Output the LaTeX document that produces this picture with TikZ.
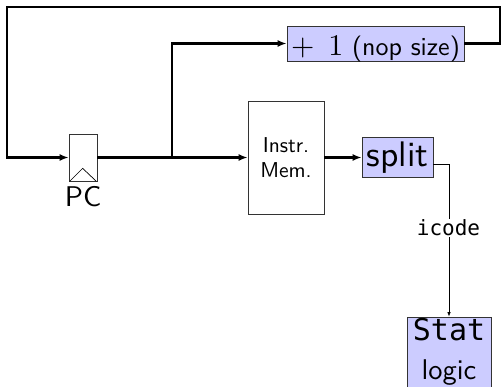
\documentclass[tikz,border=0pt]{standalone}
\usepackage{fontspec}
\setsansfont{lmsans10-regular.otf}
\setmonofont{DejaVu Sans Mono}
\newfontfamily\lmrom{lmroman10-regular.otf}
\usetikzlibrary{arrows.meta}
\definecolor{boxfill}{RGB}{204,204,255}
\begin{document}
\begin{tikzpicture}[x=1pt,y=-1pt,
  every node/.style={font=\sffamily},
  wire/.style={line width=2.1pt,-{Latex[length=9pt,width=7pt]}},
  thinwire/.style={line width=0.8pt,-{Latex[length=4.5pt,width=3.5pt]}},
  blk/.style={draw=black!80,line width=0.7pt,inner sep=0pt},
  hl/.style={blk,fill=boxfill},
  sz/.style={font=\sffamily\fontsize{#1}{#1}\selectfont}]
\useasboundingbox (0,0) rectangle (503,387);
% PC register
\node[blk,minimum width=28pt,minimum height=47pt] (pc) at (83,157.5) {};
\draw[line width=0.7pt] ([xshift=1pt]pc.south west) -- ++(13,-13) -- ([xshift=-1pt]pc.south east);
\node[sz=28.5,anchor=base] (pclabel) at (83,207) {PC};
% blocks
\node[hl,minimum width=177pt,minimum height=35pt,text height=29pt,text depth=4pt,sz=26] (plus) at (375.5,43.5)
  {{\lmrom\fontsize{30}{30}\selectfont +\hspace{14pt}1} (nop size)\hspace{7pt}};
\node[blk,minimum width=76pt,minimum height=113pt,align=center,font=\sffamily\fontsize{21.5}{25}\selectfont] (mem) at (286,157.5) {Instr.\\ Mem.};
\node[hl,minimum width=71pt,minimum height=40pt,text height=26pt,text depth=7pt,sz=35.5] (split) at (397.5,157.5) {split};
\node[hl,minimum width=84pt,minimum height=70pt,align=center,font=\sffamily\fontsize{28.5}{39}\selectfont] (stat) at (449,352)
  {{\ttfamily\fontsize{30}{39}\selectfont Stat}\\ logic};
% wires
\coordinate (tr) at (500,7);
\coordinate (tl) at (7,7);
\coordinate (br) at (172,157);
\coordinate (so) at (433,164);
\draw[wire] (plus.east) -| (tr) -- (tl) |- (pc.west);
\draw[wire] (pc.east) -- (mem.west);
\draw[wire] (br) |- (plus.west);
\draw[wire] (mem.east) -- (split.west);
\draw[thinwire] (so) -| (stat.north);
\node[fill=white,inner sep=1pt,font=\ttfamily\fontsize{21}{21}\selectfont] (ic) at (448.5,228) {icode};
\end{tikzpicture}
\end{document}
